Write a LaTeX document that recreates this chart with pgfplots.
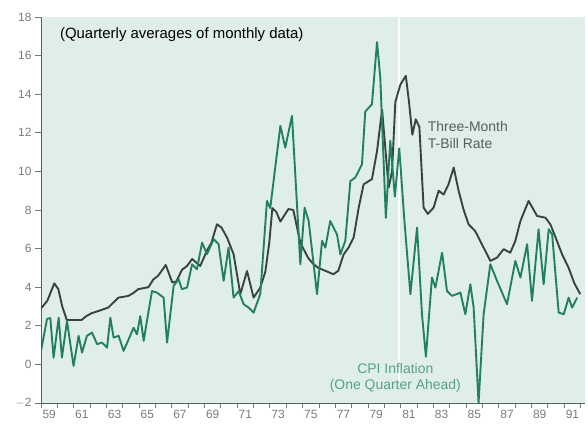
\documentclass[border=0pt]{standalone}
\usepackage{pgfplots}
\pgfplotsset{compat=1.18}
\usepackage{fontspec}
\setmainfont{Liberation Sans}

\definecolor{mint}{RGB}{223,238,233}
\definecolor{billgray}{RGB}{58,66,64}
\definecolor{cpigreen}{RGB}{34,128,96}
\definecolor{labelgray}{RGB}{120,124,122}
\definecolor{axisgray}{RGB}{80,104,96}

\begin{document}
\begin{tikzpicture}
\begin{axis}[
    name=ax,
    scale only axis,
    width=544bp, height=386bp,
    xmin=1959, xmax=1992.27,
    ymin=-2, ymax=18,
    axis x line*=bottom,
    axis y line*=left,
    axis line style={axisgray, line width=0.9pt},
    axis background/.style={fill=mint},
    ytick={-2,0,...,18},
    yticklabels={$-$2,0,2,4,6,8,10,12,14,16,18},
    xtick={1959.5,1961.5,...,1991.5},
    xticklabels={59,61,63,65,67,69,71,73,75,77,79,81,83,85,87,89,91},
    minor xtick={1959,...,1992},
    tick align=outside,
    major tick length=6bp,
    minor tick length=5bp,
    x tick style={draw=none},
    minor x tick style={draw=labelgray, line width=0.8pt},
    y tick style={labelgray, line width=0.8pt},
    tick label style={font=\fontsize{12}{14}\selectfont, text=labelgray},
    /pgf/number format/assume math mode=true,
    xticklabel style={yshift=2bp},
    clip=true,
]

% white scan fold
\draw[white, line width=1.6pt] (axis cs:1980.9,-0.9) -- (axis cs:1980.9,18);

% three month T-bill rate
\addplot[billgray, line width=1.9pt, line join=round] table {
1959.00 2.9
1959.39 3.3
1959.81 4.2
1960.06 3.9
1960.30 3.0
1960.58 2.3
1961.10 2.3
1961.48 2.3
1961.77 2.5
1962.09 2.65
1962.63 2.8
1963.12 2.95
1963.42 3.2
1963.73 3.46
1964.03 3.5
1964.34 3.55
1964.65 3.7
1964.95 3.9
1965.26 3.95
1965.57 4.0
1965.87 4.4
1966.17 4.6
1966.63 5.15
1967.03 4.24
1967.28 4.3
1967.62 4.9
1967.93 5.1
1968.24 5.46
1968.74 5.1
1969.15 5.9
1969.42 6.3
1969.76 7.26
1970.03 7.1
1970.38 6.57
1970.78 5.7
1971.19 3.64
1971.60 4.84
1972.00 3.46
1972.41 3.98
1972.72 4.8
1972.96 6.3
1973.15 8.1
1973.39 7.9
1973.64 7.4
1974.13 8.05
1974.43 8.0
1974.86 6.3
1975.35 5.5
1975.66 5.2
1975.96 5.0
1976.39 4.85
1976.88 4.67
1977.18 4.85
1977.51 5.7
1977.81 6.05
1978.12 6.57
1978.43 8.12
1978.73 9.33
1979.24 9.6
1979.55 11.05
1979.86 13.2
1980.26 9.16
1980.47 10.0
1980.67 13.6
1980.98 14.5
1981.31 14.95
1981.50 13.65
1981.71 11.9
1981.92 12.7
1982.14 12.3
1982.40 8.12
1982.66 7.8
1983.01 8.12
1983.32 9.0
1983.62 8.8
1983.91 9.3
1984.24 10.2
1984.54 9.0
1984.85 8.0
1985.15 7.26
1985.56 6.9
1986.07 6.05
1986.48 5.36
1986.89 5.53
1987.29 5.97
1987.70 5.79
1988.01 6.4
1988.32 7.43
1988.82 8.47
1989.34 7.69
1989.85 7.6
1990.15 7.26
1990.46 6.6
1990.87 5.7
1991.27 5.0
1991.62 4.2
1991.98 3.64
};

% CPI inflation, one quarter ahead
\addplot[cpigreen, line width=1.9pt, line join=round] table {
1959.00 0.7
1959.37 2.36
1959.57 2.4
1959.77 0.35
1960.08 2.42
1960.28 0.35
1960.59 2.25
1960.99 -0.08
1961.30 1.48
1961.51 0.61
1961.81 1.48
1962.12 1.65
1962.43 1.05
1962.73 1.13
1963.04 0.87
1963.24 2.42
1963.44 1.39
1963.75 1.48
1964.05 0.7
1964.36 1.3
1964.66 1.9
1964.87 1.56
1965.07 2.5
1965.28 1.22
1965.58 2.77
1965.79 3.8
1966.09 3.72
1966.50 3.46
1966.71 1.13
1967.11 4.07
1967.42 4.41
1967.62 3.9
1967.93 3.98
1968.24 5.19
1968.54 4.93
1968.85 6.31
1969.15 5.71
1969.56 6.49
1969.86 6.23
1970.17 4.33
1970.47 6.05
1970.78 3.46
1971.09 3.8
1971.39 3.12
1971.70 2.94
1972.00 2.68
1972.41 3.64
1972.82 8.47
1973.02 8.1
1973.64 12.36
1973.94 11.23
1974.35 12.88
1974.86 5.19
1975.12 8.12
1975.37 7.43
1975.58 5.88
1975.88 3.64
1976.19 6.4
1976.39 6.05
1976.69 7.43
1977.10 6.74
1977.31 5.7
1977.61 6.4
1977.92 9.5
1978.22 9.68
1978.63 10.37
1978.83 13.1
1979.24 13.48
1979.55 16.7
1979.75 14.86
1980.09 7.6
1980.36 11.6
1980.64 8.7
1980.91 11.2
1981.22 7.5
1981.59 3.64
1982.00 7.09
1982.30 2.6
1982.54 0.4
1982.91 4.5
1983.12 3.98
1983.53 5.79
1983.83 3.8
1984.14 3.55
1984.65 3.72
1984.95 2.6
1985.26 4.15
1985.46 2.94
1985.76 -2.0
1986.07 2.6
1986.48 5.19
1986.89 4.33
1987.50 3.12
1988.01 5.36
1988.32 4.5
1988.73 6.23
1989.03 3.29
1989.43 7.0
1989.74 4.15
1990.05 7.0
1990.26 6.74
1990.66 2.68
1990.97 2.6
1991.27 3.46
1991.48 2.94
1991.79 3.46
};

\node[anchor=west, font=\fontsize{15}{18}\selectfont, text=black]
    at (axis cs:1959.95,17.1) {(Quarterly averages of monthly data)};
\node[anchor=north west, align=left, font=\fontsize{14}{16.5}\selectfont, text=billgray!85]
    at (axis cs:1982.45,12.75) {Three-Month\\T-Bill Rate};
\node[anchor=north, align=center, font=\fontsize{14}{16.5}\selectfont, text=cpigreen!75]
    at (axis cs:1980.67,0.25) {CPI Inflation\\(One Quarter Ahead)};
\end{axis}
\pgfresetboundingbox
\path ([shift={(-41bp,-24bp)}]ax.south west) rectangle ([shift={(3bp,17bp)}]ax.north east);
\end{tikzpicture}
\end{document}
